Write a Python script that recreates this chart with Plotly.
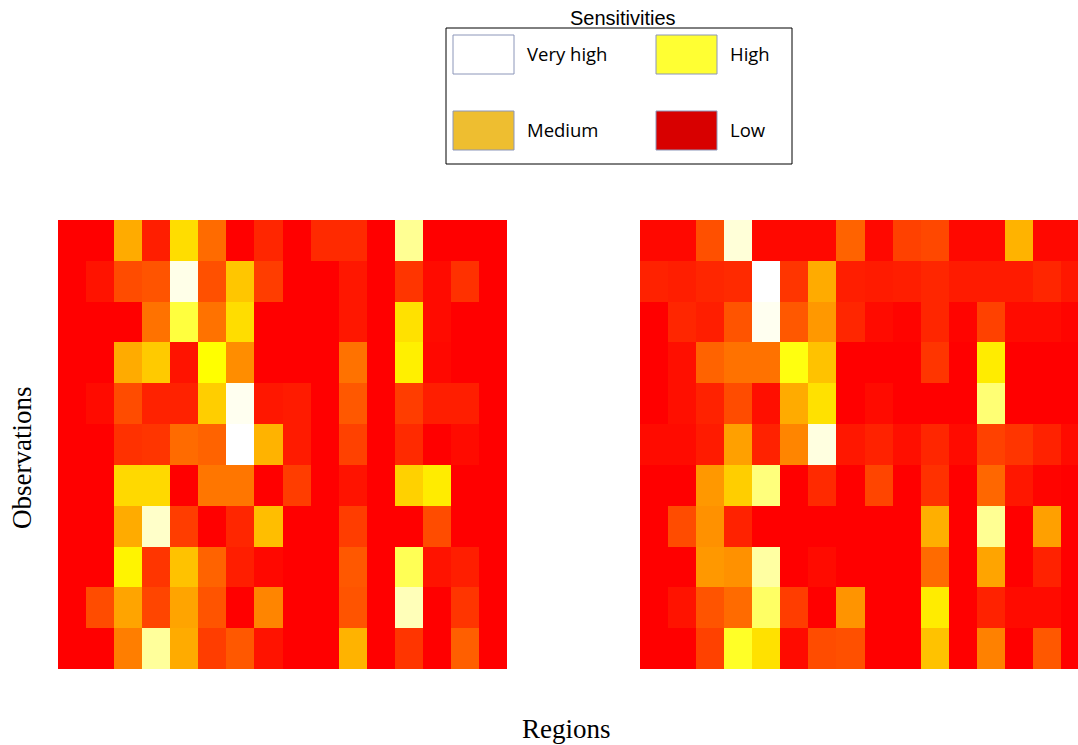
import plotly.graph_objects as go

# Sensitivity scores (0 = low ... 100 = very high), rows = observations, columns = regions
regions = list(range(16))
observations = list(range(11))

left_scores = [
    [0, 0, 45, 8, 58, 28, 0, 10, 0, 11, 11, 0, 86, 0, 0, 0],
    [0, 5, 20, 22, 97, 21, 52, 16, 0, 0, 6, 0, 14, 3, 13, 0],
    [0, 0, 0, 30, 75, 30, 58, 0, 0, 0, 6, 0, 59, 3, 0, 0],
    [0, 0, 45, 53, 5, 67, 37, 0, 0, 0, 30, 0, 63, 2, 0, 0],
    [0, 3, 20, 9, 9, 54, 98, 6, 7, 0, 23, 0, 16, 8, 8, 0],
    [0, 0, 13, 14, 28, 26, 100, 47, 7, 0, 17, 0, 11, 0, 3, 0],
    [0, 0, 57, 57, 0, 31, 31, 0, 16, 0, 5, 0, 55, 62, 0, 0],
    [0, 0, 45, 93, 16, 0, 10, 50, 0, 0, 16, 0, 0, 20, 0, 0],
    [0, 0, 64, 14, 51, 26, 8, 2, 0, 0, 23, 0, 78, 5, 8, 0],
    [0, 20, 43, 18, 43, 22, 0, 35, 0, 0, 22, 0, 91, 0, 14, 0],
    [0, 0, 33, 87, 45, 16, 23, 5, 0, 0, 47, 0, 14, 0, 25, 0],
]

right_scores = [
    [2, 2, 21, 95, 2, 2, 2, 26, 2, 17, 19, 2, 2, 47, 2, 2],
    [9, 8, 10, 11, 100, 14, 45, 8, 7, 8, 10, 7, 7, 7, 10, 6],
    [0, 10, 8, 22, 98, 23, 40, 10, 3, 1, 10, 1, 17, 3, 3, 1],
    [0, 4, 26, 30, 30, 69, 51, 0, 0, 0, 14, 0, 62, 0, 0, 0],
    [0, 4, 9, 20, 4, 45, 59, 0, 3, 0, 0, 0, 82, 0, 0, 0],
    [3, 3, 7, 42, 9, 35, 96, 6, 9, 4, 10, 3, 17, 14, 9, 3],
    [0, 0, 40, 54, 83, 0, 11, 0, 18, 0, 13, 0, 27, 6, 1, 0],
    [0, 20, 38, 9, 0, 0, 0, 0, 0, 0, 46, 0, 86, 0, 42, 0],
    [0, 0, 40, 38, 88, 0, 3, 0, 0, 0, 28, 0, 43, 0, 9, 0],
    [0, 5, 22, 28, 80, 16, 0, 39, 0, 0, 62, 0, 9, 3, 3, 0],
    [0, 0, 17, 72, 59, 3, 20, 21, 0, 0, 51, 0, 34, 0, 23, 0],
]

legend_labels = ["Very high", "High", "Medium", "Low"]
legend_colors = ["#ffffff", "#ffff33", "#eebe30", "#d80000"]

# red -> yellow -> white
colorscale = [
    [0.0, "rgb(255,0,0)"],
    [0.67, "rgb(255,255,0)"],
    [1.0, "rgb(255,255,255)"],
]

W, H = 1078, 745
cell = 449 / 16


def px(x):
    return x / W


def py(y):
    return 1 - y / H


fig = go.Figure()

fig.add_trace(go.Heatmap(
    z=left_scores, x=regions, y=observations,
    colorscale=colorscale, zmin=0, zmax=100, showscale=False,
    xaxis="x", yaxis="y", hoverinfo="skip",
))
fig.add_trace(go.Heatmap(
    z=right_scores, x=regions, y=observations,
    colorscale=colorscale, zmin=0, zmax=100, showscale=False,
    xaxis="x2", yaxis="y2", hoverinfo="skip",
))

hidden = dict(showticklabels=False, showgrid=False, zeroline=False,
              showline=False, ticks="")

right_visible = (W - 640) / cell

fig.update_layout(
    width=W, height=H,
    margin=dict(l=0, r=0, t=0, b=0),
    paper_bgcolor="white", plot_bgcolor="white",
    xaxis=dict(domain=[px(58), px(507)], range=[-0.5, 15.5], **hidden),
    yaxis=dict(domain=[py(669), py(220)], range=[10.5, -0.5], **hidden),
    xaxis2=dict(domain=[px(640), 1.0], range=[-0.5, -0.5 + right_visible],
                anchor="y2", **hidden),
    yaxis2=dict(domain=[py(669), py(220)], range=[10.5, -0.5],
                anchor="x2", **hidden),
    showlegend=False,
)

# Legend box
shapes = [dict(type="rect", xref="paper", yref="paper",
               x0=px(446), x1=px(792), y0=py(164), y1=py(28),
               line=dict(color="black", width=1), fillcolor="white", layer="above")]
annotations = [dict(text="Sensitivities", x=px(623), y=py(18), xref="paper", yref="paper",
                    showarrow=False, xanchor="center", yanchor="middle",
                    font=dict(family="Liberation Sans, Arial", size=20, color="black"))]

swatch_pos = [(453, 35), (656, 35), (453, 111), (656, 111)]
for label, color, (sx, sy) in zip(legend_labels, legend_colors, swatch_pos):
    shapes.append(dict(type="rect", xref="paper", yref="paper",
                       x0=px(sx), x1=px(sx + 61), y0=py(sy + 39), y1=py(sy),
                       line=dict(color="rgb(140,150,185)", width=1),
                       fillcolor=color, layer="above"))
    annotations.append(dict(text=label, x=px(sx + 72), y=py(sy + 18),
                            xref="paper", yref="paper", showarrow=False,
                            xanchor="left", yanchor="middle",
                            font=dict(family="Open Sans, Lato, sans-serif", size=18.5,
                                      color="black")))

annotations.append(dict(text="Observations", x=px(22), y=py(458), xref="paper", yref="paper",
                        showarrow=False, textangle=-90, xanchor="center", yanchor="middle",
                        font=dict(family="Liberation Serif, DejaVu Serif, serif", size=27,
                                  color="black")))
annotations.append(dict(text="Regions", x=px(566), y=0, xref="paper", yref="paper",
                        showarrow=False, xanchor="center", yanchor="bottom", borderpad=0,
                        font=dict(family="Liberation Serif, DejaVu Serif, serif", size=27,
                                  color="black")))

fig.update_layout(shapes=shapes, annotations=annotations)

fig.write_html("out.html")
